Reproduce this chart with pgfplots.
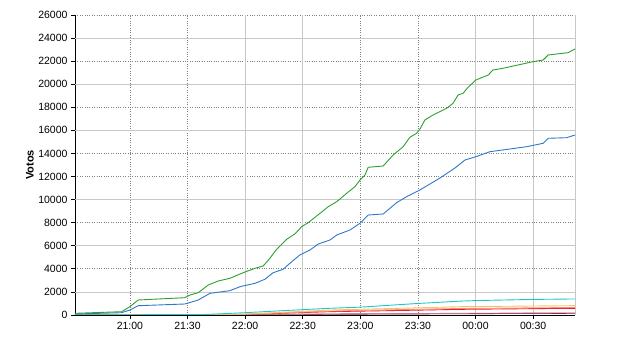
\documentclass[border=0pt]{standalone}
\usepackage{pgfplots}
\pgfplotsset{compat=1.18}
\usepackage{fontspec}
\setmainfont{Liberation Sans}
\definecolor{cgreen}{HTML}{2CA02C}
\definecolor{cblue}{HTML}{2E78C8}
\definecolor{ccyan}{HTML}{1CC8C8}
\definecolor{corange}{HTML}{F5C46A}
\definecolor{csalmon}{HTML}{F88C88}
\definecolor{cred}{HTML}{F01818}
\definecolor{cmaroon}{HTML}{800020}
\definecolor{cmauve}{HTML}{C07890}
\definecolor{gridsolid}{HTML}{C8C8C8}
\definecolor{griddot}{HTML}{808080}
\begin{document}
\begin{tikzpicture}
\useasboundingbox (-75bp,-35bp) rectangle (565bp,315bp);
\begin{axis}[
  at={(0,0)}, anchor=south west,
  scale only axis, width=500bp, height=300bp,
  xmin=1231.4, xmax=1491.8, ymin=0, ymax=26000,
  axis x line=bottom, axis y line=left,
  axis line style={-, black, line width=0.8bp},
  tick align=outside,
  major tick length=4bp,
  minor tick length=0pt,
  xtick={1260,1290,1320,1350,1380,1410,1440,1470},
  xticklabels={21:00,21:30,22:00,22:30,23:00,23:30,00:00,00:30},
  ytick={0,2000,...,26000},
  scaled y ticks=false,
  /pgf/number format/assume math mode=true,
  yticklabel style={/pgf/number format/.cd,fixed,set thousands separator={}},
  tick label style={font=\fontsize{10.5bp}{12bp}\selectfont, black},
  tick style={black, line width=0.7bp},
  minor xtick={1260,1290,1380,1410},
  minor ytick={4000,8000,12000,14000,18000,22000,26000},
  xminorgrids=true, yminorgrids=true,
  minor grid style={griddot, dotted, line width=0.8bp},
  extra x ticks={1320,1350,1440,1470,1491.8},
  extra y ticks={2000,6000,10000,16000,20000,24000},
  extra x tick labels={}, extra y tick labels={},
  extra tick style={grid=major, major tick length=0pt},
  major grid style={gridsolid, line width=0.8bp},
  ylabel={\bfseries Votos},
  ylabel style={at={(axis description cs:-0.09,0.5)}, anchor=center, font=\fontsize{11bp}{13bp}\selectfont},
  every axis plot/.append style={line width=0.9bp, mark=none},
]
% maroon
\addplot[cmaroon] coordinates {(1231.4,0) (1300,5) (1340,40) (1380,80) (1440,120) (1491.8,150)};
% mauve
\addplot[cmauve] coordinates {(1231.4,0) (1320,20) (1380,100) (1440,150) (1491.8,175)};
% red
\addplot[cred] coordinates {(1231.4,0) (1300,10) (1320,40) (1364,290) (1410,420) (1432,490) (1470,550) (1491.8,580)};
% salmon
\addplot[csalmon] coordinates {(1231.4,0) (1300,15) (1320,60) (1364,340) (1410,500) (1432,560) (1470,620) (1491.8,650)};
% orange
\addplot[corange] coordinates {(1231.4,0) (1300,20) (1320,80) (1364,430) (1410,620) (1432,720) (1470,780) (1491.8,810)};
% cyan
\addplot[ccyan] coordinates {(1231.4,20) (1290,30) (1300,50) (1320,200) (1340,380) (1364,580) (1380,680) (1410,1000) (1432,1200) (1440,1250) (1470,1350) (1491.8,1390)};
% blue
\addplot[cblue] coordinates {
(1231.4,87) (1255.7,200) (1260,433) (1264.3,806) (1288.6,953) (1295.6,1300)
(1301.7,1881) (1312.1,2106) (1317.3,2453) (1325.1,2747) (1330.3,3094) (1334.6,3666)
(1339.8,3961) (1343.3,4481) (1348.5,5200) (1353.8,5634) (1358.1,6154) (1364.2,6500)
(1367.7,6934) (1374.6,7367) (1379.8,7948) (1384.1,8667) (1391.9,8754) (1398.9,9733)
(1404.1,10253) (1411,10834) (1421.5,11874) (1429.3,12740) (1434.5,13434) (1440.2,13720)
(1447.5,14153) (1466.6,14586) (1475.2,14880) (1477.8,15314) (1487.4,15366) (1491.8,15600)};
% green
\addplot[cgreen] coordinates {
(1231.4,147) (1255.7,286) (1260,719) (1264.3,1300) (1288.6,1499) (1291.3,1733)
(1295.6,1933) (1300.8,2600) (1306,2947) (1312.1,3181) (1318.2,3614) (1325.1,4047)
(1329.4,4247) (1332.9,4914) (1336.4,5694) (1341.6,6561) (1345.9,7020) (1349.4,7653)
(1352.9,8000) (1359,8814) (1363.3,9386) (1367.7,9820) (1372.9,10547) (1377.2,11120)
(1379.8,11700) (1382.4,12134) (1384.1,12801) (1391.9,12914) (1397.1,13867) (1402.3,14586)
(1405.8,15401) (1409.3,15748) (1411,16100) (1413.6,16900) (1417.9,17334) (1424.9,17914)
(1428.3,18348) (1430.9,19067) (1433.5,19214) (1436.1,19734) (1440.2,20367) (1446.6,20801)
(1449.1,21234) (1454.3,21381) (1469.9,21954) (1475.2,22100) (1477.8,22534) (1488.2,22734)
(1491.8,23054)};
\end{axis}
\end{tikzpicture}
\end{document}
